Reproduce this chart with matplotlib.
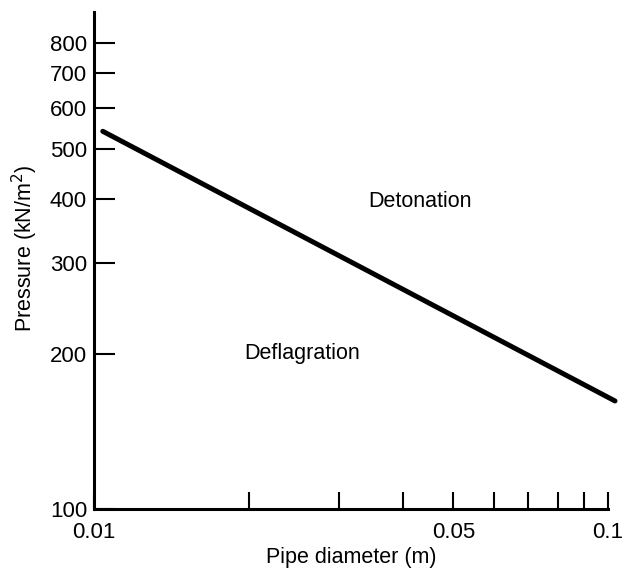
import matplotlib.pyplot as plt
from matplotlib.ticker import FixedLocator, NullFormatter, NullLocator

# boundary line between deflagration and detonation regions
diameter = [0.0104, 0.1032]  # m
pressure = [540, 162]  # kN/m2

x_ticks = [0.01, 0.02, 0.03, 0.04, 0.05, 0.06, 0.07, 0.08, 0.09, 0.1]
x_labels = ["0.01", "", "", "", "0.05", "", "", "", "", "0.1"]
y_ticks = [100, 200, 300, 400, 500, 600, 700, 800]
y_labels = ["100", "200", "300", "400", "500", "600", "700", "800"]

plt.rcParams["font.family"] = ["Liberation Sans", "DejaVu Sans"]

fig = plt.figure(figsize=(6.31, 5.69), dpi=100)
ax = fig.add_axes([0.149, 0.1054, 0.8145, 0.8736])

ax.plot(diameter, pressure, color="black", linewidth=3.6,
        solid_capstyle="round", clip_on=False)

ax.set_xscale("log")
ax.set_yscale("log")
ax.set_xlim(0.01, 0.1)
ax.set_ylim(100, 920)

ax.xaxis.set_major_locator(FixedLocator(x_ticks))
ax.xaxis.set_minor_locator(NullLocator())
ax.set_xticklabels(x_labels)
ax.yaxis.set_major_locator(FixedLocator(y_ticks))
ax.yaxis.set_minor_locator(NullLocator())
ax.set_yticklabels(y_labels)
ax.yaxis.set_minor_formatter(NullFormatter())

ax.tick_params(axis="x", direction="in", length=12, width=1.5,
               labelsize=16, pad=9)
ax.tick_params(axis="y", direction="in", length=15, width=1.5,
               labelsize=16, pad=5)

for side in ["top", "right"]:
    ax.spines[side].set_visible(False)
for side in ["left", "bottom"]:
    ax.spines[side].set_linewidth(2.2)

ax.set_xlabel("Pipe diameter (m)", fontsize=15.5, labelpad=3)
ax.set_ylabel("Pressure (kN/m$^2$)", fontsize=15.5)
ax.yaxis.set_label_coords(-0.106, 0.525)

ax.text(0.0431, 395, "Detonation", fontsize=15.5, ha="center", va="center")
ax.text(0.0254, 200, "Deflagration", fontsize=15.5, ha="center", va="center")

fig.savefig("out.png", dpi=100, facecolor="white")
